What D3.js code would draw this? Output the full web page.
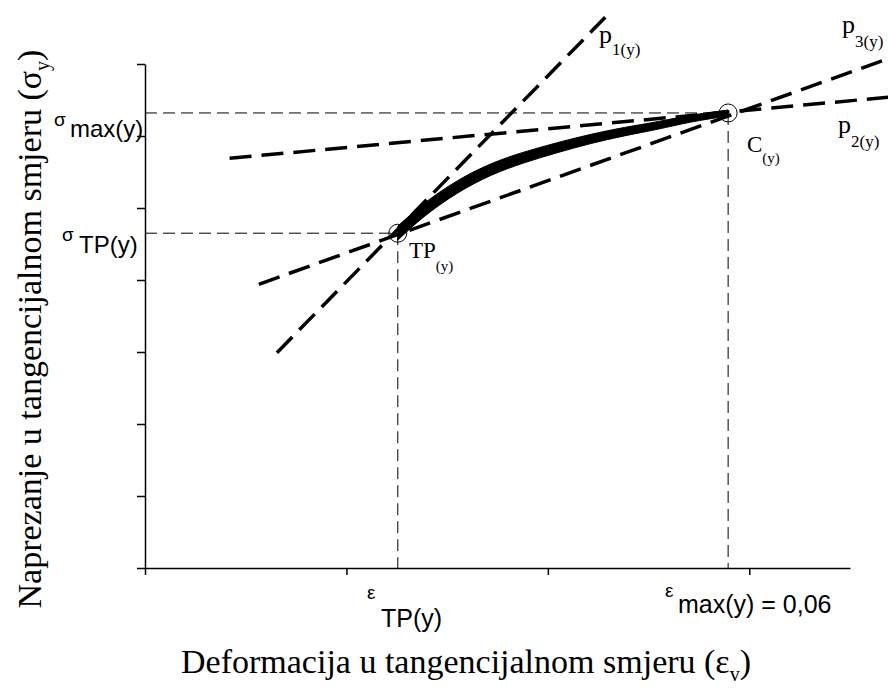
<!DOCTYPE html>
<html><head><meta charset="utf-8">
<script src="https://cdn.jsdelivr.net/npm/d3@7"></script>
<style>body{margin:0;background:#fff}svg{display:block}</style>
</head><body>
<svg id="c" width="888" height="688"></svg>
<script>
// ---- data (strain, stress units) ----
const xTicks = [0, 0.02, 0.04, 0.06];
const yTicks = [0, 1, 2, 3, 4, 5, 6, 7];
const curveX = [0.0251, 0.0277, 0.0310, 0.0343, 0.0376, 0.0410, 0.0443, 0.0476, 0.0510, 0.0542, 0.0579];
const curveY = [4.65, 4.97, 5.29, 5.53, 5.70, 5.84, 5.96, 6.06, 6.15, 6.24, 6.32];
const pointTP = [0.0251, 4.65];
const pointC = [0.0579, 6.32];
const lineNames = ["p1", "p2", "p3"];
const lineX0 = [0.0131, 0.0084, 0.0113];
const lineY0 = [2.99, 5.69, 3.94];
const lineX1 = [0.0457, 0.0739, 0.0739];
const lineY1 = [7.65, 6.54, 7.08];

const svg = d3.select("#c");
const x = d3.scaleLinear().domain([0, 0.07]).range([145, 850]);
const y = d3.scaleLinear().domain([0, 7]).range([568, 64]);

// axes
svg.append("g").attr("transform", "translate(0,568)")
  .call(d3.axisBottom(x).tickValues(xTicks).tickSize(7).tickSizeOuter(0).tickFormat(""))
  .call(g => g.selectAll("path,line").attr("stroke", "#000").attr("stroke-width", 1.5));
svg.append("g").attr("transform", "translate(145,0)")
  .call(d3.axisLeft(y).tickValues(yTicks).tickSize(8).tickSizeOuter(0).tickFormat(""))
  .call(g => g.selectAll("path,line").attr("stroke", "#000").attr("stroke-width", 1.5));

// thin guide lines
const guide = svg.append("g").attr("stroke", "#000").attr("stroke-width", 1).attr("stroke-dasharray", "12,6").attr("fill", "none");
[pointTP, pointC].forEach(p => {
  guide.append("line").attr("x1", x(0)).attr("x2", x(p[0])).attr("y1", y(p[1])).attr("y2", y(p[1]));
  guide.append("line").attr("x1", x(p[0])).attr("x2", x(p[0])).attr("y1", y(p[1])).attr("y2", y(0));
});

// tangent / secant lines
lineNames.forEach((n, i) => {
  svg.append("line").attr("x1", x(lineX0[i])).attr("y1", y(lineY0[i]))
    .attr("x2", x(lineX1[i])).attr("y2", y(lineY1[i]))
    .attr("stroke", "#000").attr("stroke-width", 3.5).attr("stroke-dasharray", "22,10");
});

// thick tapering curve
const pts = curveX.map((v, i) => [v, curveY[i], i / (curveX.length - 1)]);
const half = t => 7 - 4 * t;
svg.append("path").datum(pts)
  .attr("d", d3.area().x(d => x(d[0]))
      .y0(d => y(d[1]) - half(d[2])).y1(d => y(d[1]) + half(d[2]))
      .curve(d3.curveNatural))
  .attr("fill", "#000").attr("stroke", "#000").attr("stroke-width", 1);

// circles
[pointTP, pointC].forEach(p => {
  svg.append("circle").attr("cx", x(p[0])).attr("cy", y(p[1])).attr("r", 9)
    .attr("fill", "none").attr("stroke", "#000").attr("stroke-width", 1);
});

// text helpers
function lab(xp, yp, main, sub, size, subSize, dy, family) {
  const t = svg.append("text").attr("x", xp).attr("y", yp)
    .attr("font-family", family).attr("font-size", size);
  t.append("tspan").text(main);
  t.append("tspan").attr("font-size", subSize).attr("dy", dy).text(sub);
  return t;
}
const serif = "'Liberation Serif','Times New Roman',serif";
const sans = "'Liberation Sans',Arial,sans-serif";

lab(599, 43, "p", "1(y)", 26, 17, 12, serif);
lab(842, 33, "p", "3(y)", 26, 17, 14, serif);
lab(838, 133, "p", "2(y)", 26, 17, 14, serif);
lab(747, 152, "C", "(y)", 23, 15, 11, serif);
lab(409, 258, "TP", "(y)", 23, 15, 13, serif);

// tick labels with small leading symbol
function symLab(sx, sy, sym, rx, ry, rest, size) {
  svg.append("text").attr("x", sx).attr("y", sy).attr("font-family", sans).attr("font-size", 19).text(sym);
  svg.append("text").attr("x", rx).attr("y", ry).attr("font-family", sans).attr("font-size", size).text(rest);
}
symLab(54, 126, "σ", 70, 137, "max(y)", 24);
symLab(62, 241, "σ", 79, 253, "TP(y)", 24);
symLab(367, 599, "ε", 381, 627, "TP(y)", 25);
symLab(665, 597, "ε", 678, 613, "max(y) = 0,06", 25);

// axis titles
const xt = svg.append("text").attr("x", 466).attr("y", 673).attr("text-anchor", "middle")
  .attr("font-family", serif).attr("font-size", 34);
xt.append("tspan").text("Deformacija u tangencijalnom smjeru (ε");
xt.append("tspan").attr("font-size", 20).attr("dy", 8).text("v");
xt.append("tspan").attr("dy", -8).text(")");

const yt = svg.append("text").attr("transform", "translate(41,329) rotate(-90)").attr("text-anchor", "middle")
  .attr("font-family", serif).attr("font-size", 34);
yt.append("tspan").text("Naprezanje u tangencijalnom smjeru (σ");
yt.append("tspan").attr("font-size", 20).attr("dy", 8).text("y");
yt.append("tspan").attr("dy", -8).text(")");
</script>
</body></html>
